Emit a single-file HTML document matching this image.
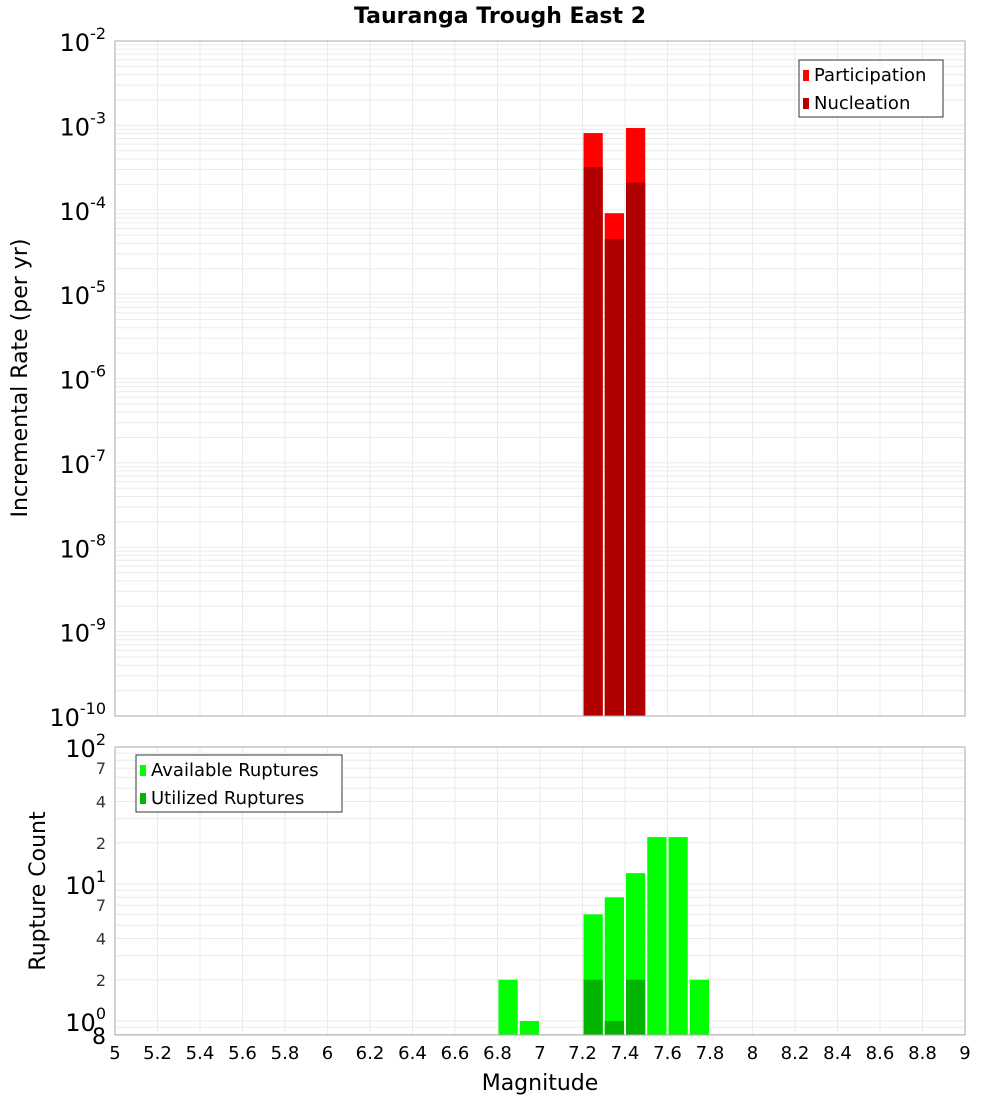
<!DOCTYPE html>
<html><head><meta charset="utf-8"><style>
body{margin:0;background:#fff;font-family:"DejaVu Sans","Liberation Sans",sans-serif;}
svg text{font-family:"DejaVu Sans","Liberation Sans",sans-serif;}
</style></head><body>
<svg id="chart" width="1000" height="1100" xmlns="http://www.w3.org/2000/svg">
<text x="500" y="23" text-anchor="middle" font-size="22" font-weight="bold">Tauranga Trough East 2</text>
<g id="topPlot"></g>
<g id="botPlot"></g>
<text transform="translate(27,378) rotate(-90)" text-anchor="middle" font-size="22">Incremental Rate (per yr)</text>
<text transform="translate(45,891) rotate(-90)" text-anchor="middle" font-size="22">Rupture Count</text>
<text x="540" y="1090" text-anchor="middle" font-size="22">Magnitude</text>
</svg>
<script>
const binStarts = [7.2, 7.3, 7.4];
const participation = [8.1e-4, 9.1e-5, 9.3e-4];
const nucleation = [3.2e-4, 4.5e-5, 2.1e-4];
const countBins = [6.8, 6.9, 7.2, 7.3, 7.4, 7.5, 7.6, 7.7];
const available = [2, 1, 6, 8, 12, 22, 22, 2];
const utilBins = [7.2, 7.3, 7.4];
const utilized = [2, 1, 2];
const xTicks = ["5","5.2","5.4","5.6","5.8","6","6.2","6.4","6.6","6.8","7","7.2","7.4","7.6","7.8","8","8.2","8.4","8.6","8.8","9"];
const topExps = [-2,-3,-4,-5,-6,-7,-8,-9,-10];
const botMinor = [2,4,7];

const NS="http://www.w3.org/2000/svg";
const L=115,R=965;
const T1=41,B1=716,T2=747,B2=1035;
const xs=m=>L+(m-5)*(R-L)/4;
const yTop=v=>T1+(-2-Math.log10(v))*(B1-T1)/8;
const dec2=137, y10=1021;
const yBot=v=>y10-Math.log10(v)*dec2;
function mk(p,tag,a){const e=document.createElementNS(NS,tag);for(const k in a)e.setAttribute(k,a[k]);p.appendChild(e);return e;}
const gTop=document.getElementById('topPlot'),gBot=document.getElementById('botPlot');

function frame(g,T,B){
  mk(g,'rect',{x:L,y:T,width:R-L,height:B-T,fill:'#fff'});
  for(let i=0;i<=20;i++){const l=mk(g,'line',{x1:xs(5+i*0.2),x2:xs(5+i*0.2),y1:T,y2:B,stroke:'#ebebeb'});
  
  }
}
frame(gTop,T1,B1);frame(gBot,T2,B2);
for(let e=-10;e<-2;e++)for(let k=1;k<10;k++){const y=yTop(k*Math.pow(10,e));
  const l=mk(gTop,'line',{x1:L,x2:R,y1:y,y2:y,stroke:'#ebebeb'});
  
  }
topExps.forEach(e=>{const y=yTop(Math.pow(10,e));
  const t=mk(gTop,'text',{x:106,y:y+10,'text-anchor':'end','font-size':24});
  
  
  t.innerHTML='10<tspan dy="-12" font-size="16">'+e+'</tspan>';});
for(let e=-1;e<2;e++)for(let k=1;k<10;k++){const v=k*Math.pow(10,e);const y=yBot(v);if(y<T2-1||y>B2)continue;
  const l=mk(gBot,'line',{x1:L,x2:R,y1:y,y2:y,stroke:'#ebebeb'});
  
  }
[0,1,2].forEach(e=>{const y=yBot(Math.pow(10,e));
  const t=mk(gBot,'text',{x:106,y:y+10,'text-anchor':'end','font-size':24});
  
  
  t.innerHTML='10<tspan dy="-12" font-size="16">'+e+'</tspan>';});
[0,1].forEach(e=>botMinor.forEach(k=>{const y=yBot(k*Math.pow(10,e));
  const t=mk(gBot,'text',{x:106,y:y+6,'text-anchor':'end','font-size':16,fill:'#333'});
  
  
  t.textContent=k;}));
{const t=mk(gBot,'text',{x:106,y:B2+9,'text-anchor':'end','font-size':22});


t.textContent='8';}
binStarts.forEach((b,i)=>{const x=xs(b)+1,w=xs(b+0.1)-xs(b)-2;
  let r=mk(gTop,'rect',{x:x,y:yTop(participation[i]),width:w,height:B1-yTop(participation[i]),fill:'#ff0000'});
  
  
  r=mk(gTop,'rect',{x:x,y:yTop(nucleation[i]),width:w,height:B1-yTop(nucleation[i]),fill:'#b00000'});
  
  });
countBins.forEach((b,i)=>{const x=xs(b)+1,w=xs(b+0.1)-xs(b)-2;const y=yBot(available[i]);
  const r=mk(gBot,'rect',{x:x,y:y,width:w,height:B2-y,fill:'#00ff00'});
  
  });
utilBins.forEach((b,i)=>{const x=xs(b)+1,w=xs(b+0.1)-xs(b)-2;const y=yBot(utilized[i]);
  const r=mk(gBot,'rect',{x:x,y:y,width:w,height:B2-y,fill:'#00b400'});
  
  });
mk(gTop,'rect',{x:L,y:T1,width:R-L,height:B1-T1,fill:'none',stroke:'#aaa'});
mk(gBot,'rect',{x:L,y:T2,width:R-L,height:B2-T2,fill:'none',stroke:'#aaa'});
xTicks.forEach(s=>{const t=mk(gBot,'text',{x:xs(+s),y:1059,'text-anchor':'middle','font-size':18});
  
  
  t.textContent=s;});
function legend(g,x,y,w,items,name){const lg=mk(g,'g',{});
  
  
  mk(lg,'rect',{x:x,y:y,width:w,height:57,fill:'#fff',stroke:'#333'});
  items.forEach((it,i)=>{mk(lg,'rect',{x:x+4,y:y+10+i*28,width:6,height:11,fill:it[1]});
    const t=mk(lg,'text',{x:x+15,y:y+21+i*28,'font-size':18});
    
    
    t.textContent=it[0];});}
legend(gTop,799,60,144,[["Participation","#ff0000"],["Nucleation","#b00000"]],'rate-legend');
legend(gBot,136,755,206,[["Available Ruptures","#00ff00"],["Utilized Ruptures","#00b400"]],'count-legend');
</script>
</body></html>
